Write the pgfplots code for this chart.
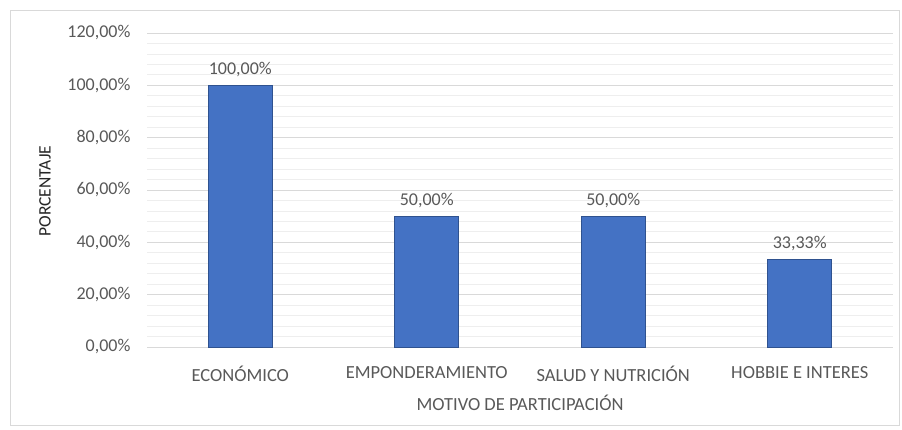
\documentclass[border=0pt]{standalone}
\usepackage{pgfplots}
\pgfplotsset{compat=1.18}
\usepackage{fontspec}
\setmainfont{Carlito}
\definecolor{barblue}{HTML}{4472C4}
\definecolor{baredge}{HTML}{2F528F}
\definecolor{txtgray}{HTML}{595959}
\definecolor{gridmaj}{HTML}{D9D9D9}
\definecolor{gridmin}{HTML}{EEEEEE}
\begin{document}
\begin{tikzpicture}[x=1pt,y=1pt]
\path[fill=white] (0,0) rectangle (902,430);
\draw[gridmaj,line width=0.8pt] (10,5) rectangle (899,420);
\begin{axis}[
  at={(147pt,83pt)}, anchor=south west,
  scale only axis, width=746pt, height=314pt,
  xmin=-0.5, xmax=3.5, ymin=0, ymax=120,
  xtick={0,1,2,3},
  xticklabels={ECONÓMICO,EMPONDERAMIENTO,SALUD Y NUTRICIÓN,HOBBIE E INTERES},
  ytick={0,20,40,60,80,100,120},
  yticklabels={{0,00\%},{20,00\%},{40,00\%},{60,00\%},{80,00\%},{100,00\%},{120,00\%}},
  minor y tick num=4,
  ymajorgrids, yminorgrids,
  major grid style={gridmaj,line width=0.9pt},
  minor grid style={gridmin,line width=0.8pt},
  axis line style={draw=none},
  tick style={draw=none},
  yticklabel style={font=\fontsize{18}{21}\selectfont, text=txtgray, xshift=-13pt},
  xticklabel style={font=\fontsize{18.5}{22}\selectfont, text=txtgray, yshift=-16pt},
  clip=false,
]
\addplot[ybar, bar width=64pt, fill=barblue, draw=baredge, line width=0.8pt,
  point meta=explicit symbolic,
  nodes near coords={\pgfplotspointmeta\%},
  every node near coord/.append style={font=\fontsize{18}{21}\selectfont, text=txtgray, yshift=5pt}]
  table[x=x, y=y, meta=lab] {
x y lab
0 100 100,00
1 50 50,00
2 50 50,00
3 33.33 33,33
};
\end{axis}
\node[rotate=90, font=\fontsize{17.5}{20}\selectfont, text=black!85] at (45,239) {PORCENTAJE};
\node[font=\fontsize{18.5}{22}\selectfont, text=txtgray] at (520,27) {MOTIVO DE PARTICIPACIÓN};
\end{tikzpicture}
\end{document}
